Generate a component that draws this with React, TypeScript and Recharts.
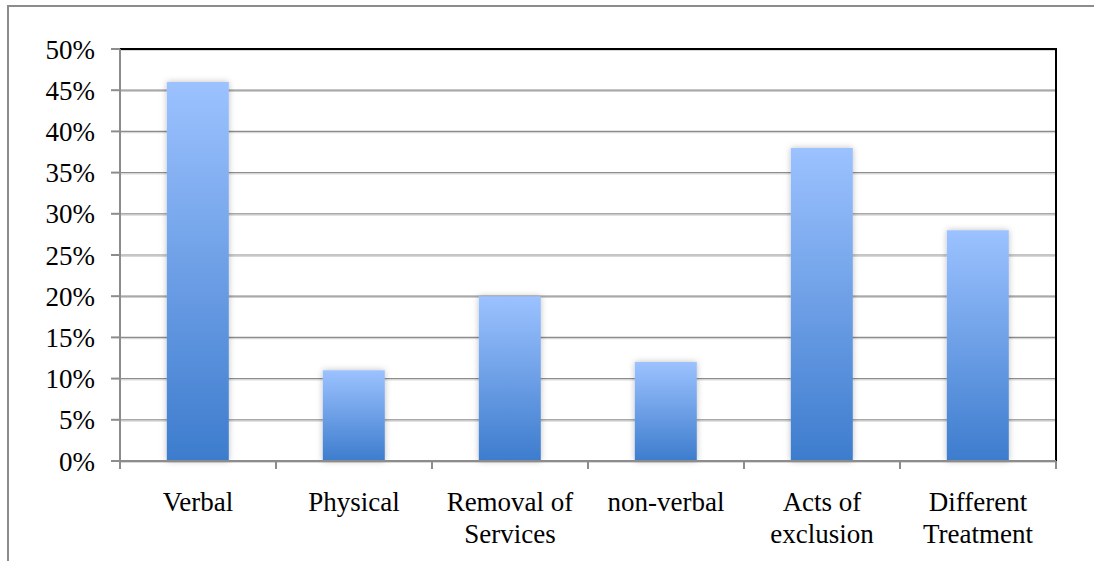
import React from "react";
import {
  Bar,
  BarChart,
  CartesianGrid,
  ReferenceLine,
  XAxis,
  YAxis,
} from "recharts";

const categories = [
  "Verbal",
  "Physical",
  "Removal of\nServices",
  "non-verbal",
  "Acts of\nexclusion",
  "Different\nTreatment",
];
const shares = [0.46, 0.11, 0.2, 0.12, 0.38, 0.28];
const yTicks = [0, 0.05, 0.1, 0.15, 0.2, 0.25, 0.3, 0.35, 0.4, 0.45, 0.5];

const FONT = '"Liberation Serif", "Times New Roman", serif';
const GRID = "#8c8c8c";

const data = categories.map((name, i) => ({ name, share: shares[i] }));

const CategoryTick = (props: any) => {
  const { x, y, payload } = props;
  const lines = String(payload.value).split("\n");
  return (
    <text x={x} y={y} textAnchor="middle" fill="#000" fontSize={27} fontFamily={FONT}>
      {lines.map((line, i) => (
        <tspan key={i} x={x} dy={i === 0 ? 50 : 32}>
          {line}
        </tspan>
      ))}
    </text>
  );
};

// horizontal grid: dark line with a faint shadow under it
const GridLine = (props: any) => {
  const { x1, x2, y1, y2 } = props;
  return (
    <g>
      <line x1={x1} x2={x2} y1={y1} y2={y2} stroke={GRID} strokeWidth={1.2} />
      <line x1={x1} x2={x2} y1={y1 + 1.3} y2={y2 + 1.3} stroke="#cfcfcf" strokeWidth={1} />
    </g>
  );
};

// short tick marks below the x axis at each category boundary
const BoundaryTick = (props: any) => {
  const { x1, y2 } = props;
  return <line x1={x1} x2={x1} y1={y2} y2={y2 + 8} stroke={GRID} strokeWidth={2} />;
};

// black frame edge on the right side of the plot
const RightEdge = (props: any) => {
  const { x1, y1, y2 } = props;
  return <line x1={x1} x2={x1} y1={y1 - 1} y2={y2} stroke="#000" strokeWidth={2} />;
};

export default function App() {
  return (
    <div
      style={{
        position: "absolute",
        left: 0,
        top: 0,
        width: 1094,
        height: 561,
        background: "#fff",
        overflow: "hidden",
      }}
    >
      <div
        style={{
          position: "absolute",
          left: 7,
          top: 5,
          width: 1200,
          height: 700,
          border: `2px solid ${GRID}`,
        }}
      />
      <div style={{ position: "absolute", left: 0, top: 0 }}>
        <BarChart
          width={1094}
          height={561}
          data={data}
          margin={{ top: 49, right: 38, left: 0, bottom: 0 }}
          barCategoryGap="30%"
        >
          <defs>
            <linearGradient id="barFill" x1="0" y1="0" x2="0" y2="1">
              <stop offset="0%" stopColor="#9cc2ff" />
              <stop offset="100%" stopColor="#3d7ccd" />
            </linearGradient>
            <filter id="barShadow" x="-30%" y="-10%" width="160%" height="120%">
              <feDropShadow dx="0" dy="0" stdDeviation="3" floodColor="#000" floodOpacity="0.25" />
            </filter>
          </defs>
          <CartesianGrid horizontal={GridLine} vertical={false} />
          <CartesianGrid
            horizontal={false}
            vertical={BoundaryTick}
            verticalCoordinatesGenerator={({ offset }: any) =>
              categories
                .map((_, i) => offset.left + (offset.width * i) / categories.length)
                .concat(offset.left + offset.width)
            }
          />
          <CartesianGrid
            horizontal={false}
            vertical={RightEdge}
            verticalCoordinatesGenerator={({ offset }: any) => [offset.left + offset.width]}
          />
          <XAxis
            dataKey="name"
            height={100}
            tickLine={false}
            tickSize={0}
            tickMargin={0}
            interval={0}
            axisLine={{ stroke: GRID, strokeWidth: 2 }}
            tick={<CategoryTick />}
          />
          <YAxis
            width={120}
            domain={[0, 0.5]}
            ticks={yTicks}
            interval={0}
            tickSize={9}
            tickMargin={16}
            tickLine={{ stroke: GRID, strokeWidth: 2 }}
            axisLine={{ stroke: GRID, strokeWidth: 2 }}
            tick={{ fill: "#000", fontSize: 27, fontFamily: FONT }}
            tickFormatter={(v: number) => `${Math.round(v * 100)}%`}
          />
          <ReferenceLine y={0.5} stroke="#000" strokeWidth={2} />
          <Bar
            dataKey="share"
            fill="url(#barFill)"
            filter="url(#barShadow)"
            isAnimationActive={false}
          />
        </BarChart>
      </div>
    </div>
  );
}
